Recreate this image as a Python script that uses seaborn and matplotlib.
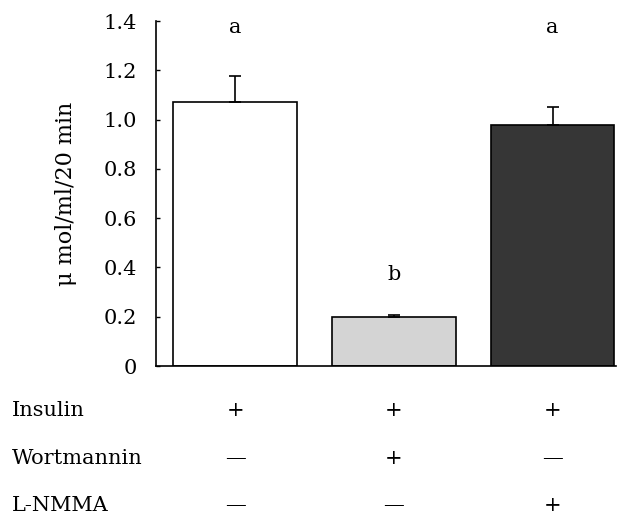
import matplotlib
matplotlib.use("Agg")
import matplotlib.pyplot as plt
import seaborn as sns
import pandas as pd

groups = ["Insulin", "Insulin+Wortmannin", "Insulin+L-NMMA"]
values = [1.07, 0.20, 0.98]
errors = [0.105, 0.006, 0.072]
letters = ["a", "b", "a"]
bar_colors = ["#ffffff", "#d4d4d4", "#363636"]
row_labels = ["Insulin", "Wortmannin", "L-NMMA"]
row_signs = [["+", "+", "+"], ["—", "+", "—"], ["—", "—", "+"]]
yticks = [0, 0.2, 0.4, 0.6, 0.8, 1.0, 1.2, 1.4]
ytick_labels = ["0", "0.2", "0.4", "0.6", "0.8", "1.0", "1.2", "1.4"]

sns.set_theme(style="white")
plt.rcParams["font.family"] = ["DejaVu Serif"]
plt.rcParams["text.color"] = "black"
plt.rcParams["axes.labelcolor"] = "black"
plt.rcParams["ytick.color"] = "black"

df = pd.DataFrame({"group": groups, "value": values})

fig = plt.figure(figsize=(6.2, 5.18), dpi=100)
ax = fig.add_axes([0.2516, 0.2934, 0.7419, 0.666])

sns.barplot(data=df, x="group", y="value", hue="group", palette=bar_colors,
            width=0.78, edgecolor="black", linewidth=1.2, legend=False, ax=ax,
            errorbar=None)

xs = list(range(len(groups)))
ax.errorbar(xs, values, yerr=[[0] * len(errors), errors], fmt="none",
            ecolor="black", elinewidth=1.2, capsize=4, capthick=1.2)

for x, v, e, l in zip(xs, values, errors, letters):
    if l == "b":
        ax.text(x, 0.37, l, ha="center", va="center", fontsize=15)
    else:
        ax.text(x, 1.375, l, ha="center", va="center", fontsize=15)

ax.set_xlim(-0.5, 2.40)
ax.set_ylim(0, 1.4)
ax.set_yticks(yticks)
ax.set_yticklabels(ytick_labels, fontsize=15)
ax.set_xticks([])
ax.set_xlabel("")
ax.set_ylabel("μ mol/ml/20 min", fontsize=16, labelpad=19)
ax.tick_params(axis="y", direction="in", length=3, width=1, left=True, pad=14)
for s in ["top", "right"]:
    ax.spines[s].set_visible(False)
for s in ["left", "bottom"]:
    ax.spines[s].set_color("black")
    ax.spines[s].set_linewidth(1.2)

row_y = [-0.1275, -0.2667, -0.403]
trans = matplotlib.transforms.blended_transform_factory(ax.transData, ax.transAxes)
for ry, lab, signs in zip(row_y, row_labels, row_signs):
    fig.text(0.019, ax.transAxes.transform((0, ry))[1] / fig.bbox.height, lab,
             ha="left", va="center", fontsize=15)
    for x, s in zip(xs, signs):
        ax.text(x, ry, s, ha="center", va="center", fontsize=15,
                transform=trans, clip_on=False)

fig.savefig("out.png", dpi=100)
